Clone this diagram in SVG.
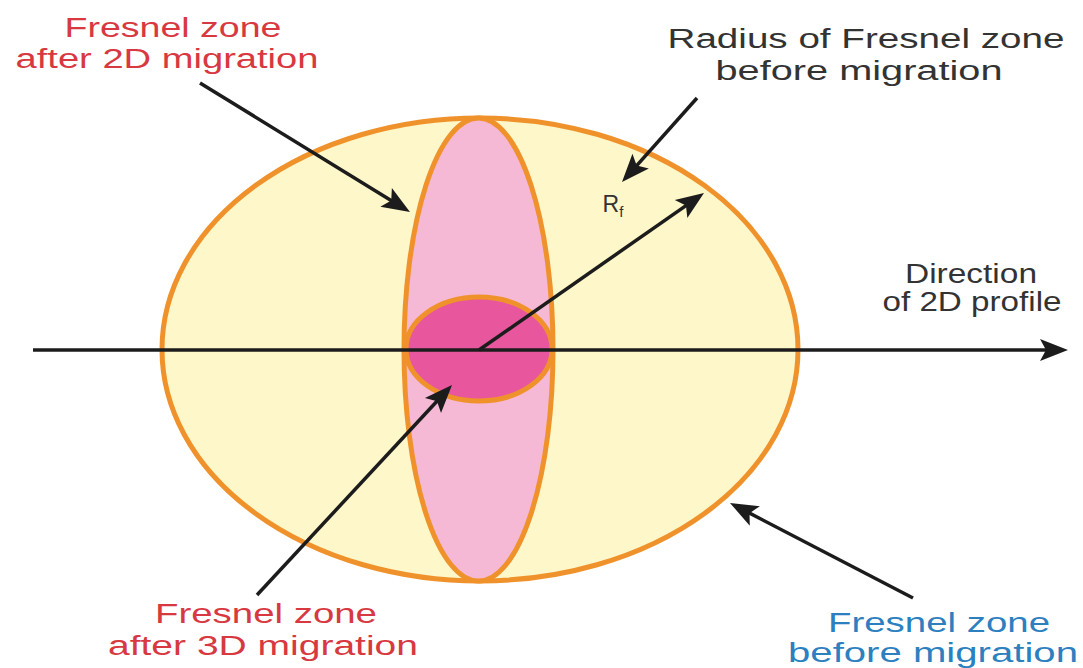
<svg xmlns="http://www.w3.org/2000/svg" width="1083" height="668" viewBox="0 0 1083 668">
<style>
.zone{stroke:#F0922B;stroke-width:5}
.big{fill:#FEF7C9}
.mid{fill:#F5B9D6}
.small{fill:#E8569E}
.conn{stroke:#1C1C1C;stroke-width:3.5;fill:none;marker-end:url(#head)}
text{font-family:"Liberation Sans",Arial,sans-serif;font-size:27px;text-anchor:middle}
.red{fill:#D8383F}
.blue{fill:#2D80BF}
.dark{fill:#333333}
</style>
<defs>
<marker id="head" markerUnits="userSpaceOnUse" viewBox="-14 -12 30 24" refX="0" refY="0" markerWidth="30" markerHeight="24" orient="auto">
<path d="M15,0 L-13,-11 L-7,0 L-13,11 Z" fill="#1C1C1C"/>
</marker>
</defs>
<rect width="1083" height="668" fill="#FFFFFF"/>
<g id="zone-before">
<ellipse class="zone big" cx="480" cy="349.5" rx="318" ry="231.5"/>
</g>
<g id="zone-2d">
<ellipse class="zone mid" cx="478.5" cy="349.5" rx="74.5" ry="231.5"/>
</g>
<g id="zone-3d">
<ellipse class="zone small" cx="479" cy="349" rx="73" ry="52"/>
</g>
<g id="connectors">
<line class="conn" x1="33" y1="350" x2="1053" y2="350"/>
<line class="conn" x1="479" y1="350" x2="691.7" y2="201.6"/>
<line class="conn" x1="200" y1="83" x2="397.2" y2="204.2"/>
<line class="conn" x1="697" y1="98" x2="632" y2="170.8"/>
<line class="conn" x1="257" y1="595" x2="441.8" y2="396"/>
<line class="conn" x1="913" y1="598" x2="743.3" y2="509.9"/>
</g>
<g id="label-2d">
<text class="red" x="173" y="37" textLength="217" lengthAdjust="spacingAndGlyphs">Fresnel zone</text>
<text class="red" x="167" y="68" textLength="303" lengthAdjust="spacingAndGlyphs">after 2D migration</text>
</g>
<g id="label-radius">
<text class="dark" x="866" y="48" textLength="397" lengthAdjust="spacingAndGlyphs">Radius of Fresnel zone</text>
<text class="dark" x="859" y="80" textLength="287" lengthAdjust="spacingAndGlyphs">before migration</text>
</g>
<g id="label-rf">
<text class="dark" x="613" y="212" style="font-size:23px">R<tspan style="font-size:15px" dy="5">f</tspan></text>
</g>
<g id="label-direction">
<text class="dark" x="971" y="283" textLength="132" lengthAdjust="spacingAndGlyphs">Direction</text>
<text class="dark" x="972" y="311" textLength="179" lengthAdjust="spacingAndGlyphs">of 2D profile</text>
</g>
<g id="label-3d">
<text class="red" x="266" y="623" textLength="222" lengthAdjust="spacingAndGlyphs">Fresnel zone</text>
<text class="red" x="263" y="655" textLength="310" lengthAdjust="spacingAndGlyphs">after 3D migration</text>
</g>
<g id="label-before">
<text class="blue" x="939" y="632" textLength="222" lengthAdjust="spacingAndGlyphs">Fresnel zone</text>
<text class="blue" x="933" y="662" textLength="290" lengthAdjust="spacingAndGlyphs">before migration</text>
</g>
</svg>
